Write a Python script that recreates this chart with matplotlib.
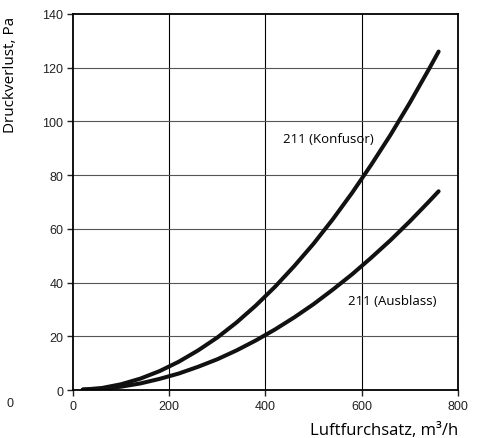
import matplotlib
matplotlib.use("Agg")
import matplotlib.pyplot as plt

# values
flow = [20, 60, 100, 140, 180, 220, 260, 300, 340, 380,
        420, 460, 500, 540, 580, 620, 660, 700, 740, 760]
konfusor = [0.2, 0.8, 2.2, 4.3, 7.1, 10.6, 14.8, 19.6, 25.2, 31.5,
            38.5, 46.2, 54.5, 63.6, 73.4, 83.9, 95.0, 106.9, 119.5, 126.0]
ausblass = [0.2, 0.5, 1.3, 2.5, 4.2, 6.2, 8.7, 11.5, 14.8, 18.5,
            22.6, 27.1, 32.0, 37.4, 43.1, 49.3, 55.8, 62.8, 70.2, 74.0]

x_ticks = [0, 200, 400, 600, 800]
y_ticks = [0, 20, 40, 60, 80, 100, 120, 140]

tick_font = "Liberation Sans"
label_font = "Open Sans"

fig = plt.figure(figsize=(4.84, 4.39), dpi=100)
ax = fig.add_axes([0.151, 0.109, 0.795, 0.857])

ax.plot(flow, konfusor, color="#111111", lw=2.9, solid_capstyle="round", solid_joinstyle="round")
ax.plot(flow, ausblass, color="#111111", lw=2.9, solid_capstyle="round", solid_joinstyle="round")

ax.set_xlim(0, 800)
ax.set_ylim(0, 140)
ax.set_xticks(x_ticks)
ax.set_yticks(y_ticks)
for v in x_ticks[1:-1]:
    ax.axvline(v, color="black", lw=0.8, zorder=0)
for v in y_ticks[1:-1]:
    ax.axhline(v, color="#555555", lw=0.8, zorder=0)

for s in ax.spines.values():
    s.set_linewidth(1.3)
    s.set_color("black")
ax.tick_params(direction="out", length=4, width=1, labelsize=9, colors="#222222", pad=3)
for lab in ax.get_xticklabels() + ax.get_yticklabels():
    lab.set_fontfamily(tick_font)

ax.text(436, 93.5, "211 (Konfusor)", fontsize=9.5, family=label_font, va="center", ha="left")
ax.text(572, 33.5, "211 (Ausblass)", fontsize=9.5, family=label_font, va="center", ha="left")

ax.set_ylabel("Druckverlust, Pa", fontsize=11, family=label_font, loc="top")
ax.yaxis.set_label_coords(-0.143, 0.995)
ax.set_xlabel("Luftfurchsatz, m³/h", fontsize=12, family=label_font, loc="right", labelpad=7)

fig.text(10 / 484, 1 - 404 / 439, "0", fontsize=9, family=tick_font, ha="center", va="center", color="#222222")

fig.savefig("out.png", dpi=100)
